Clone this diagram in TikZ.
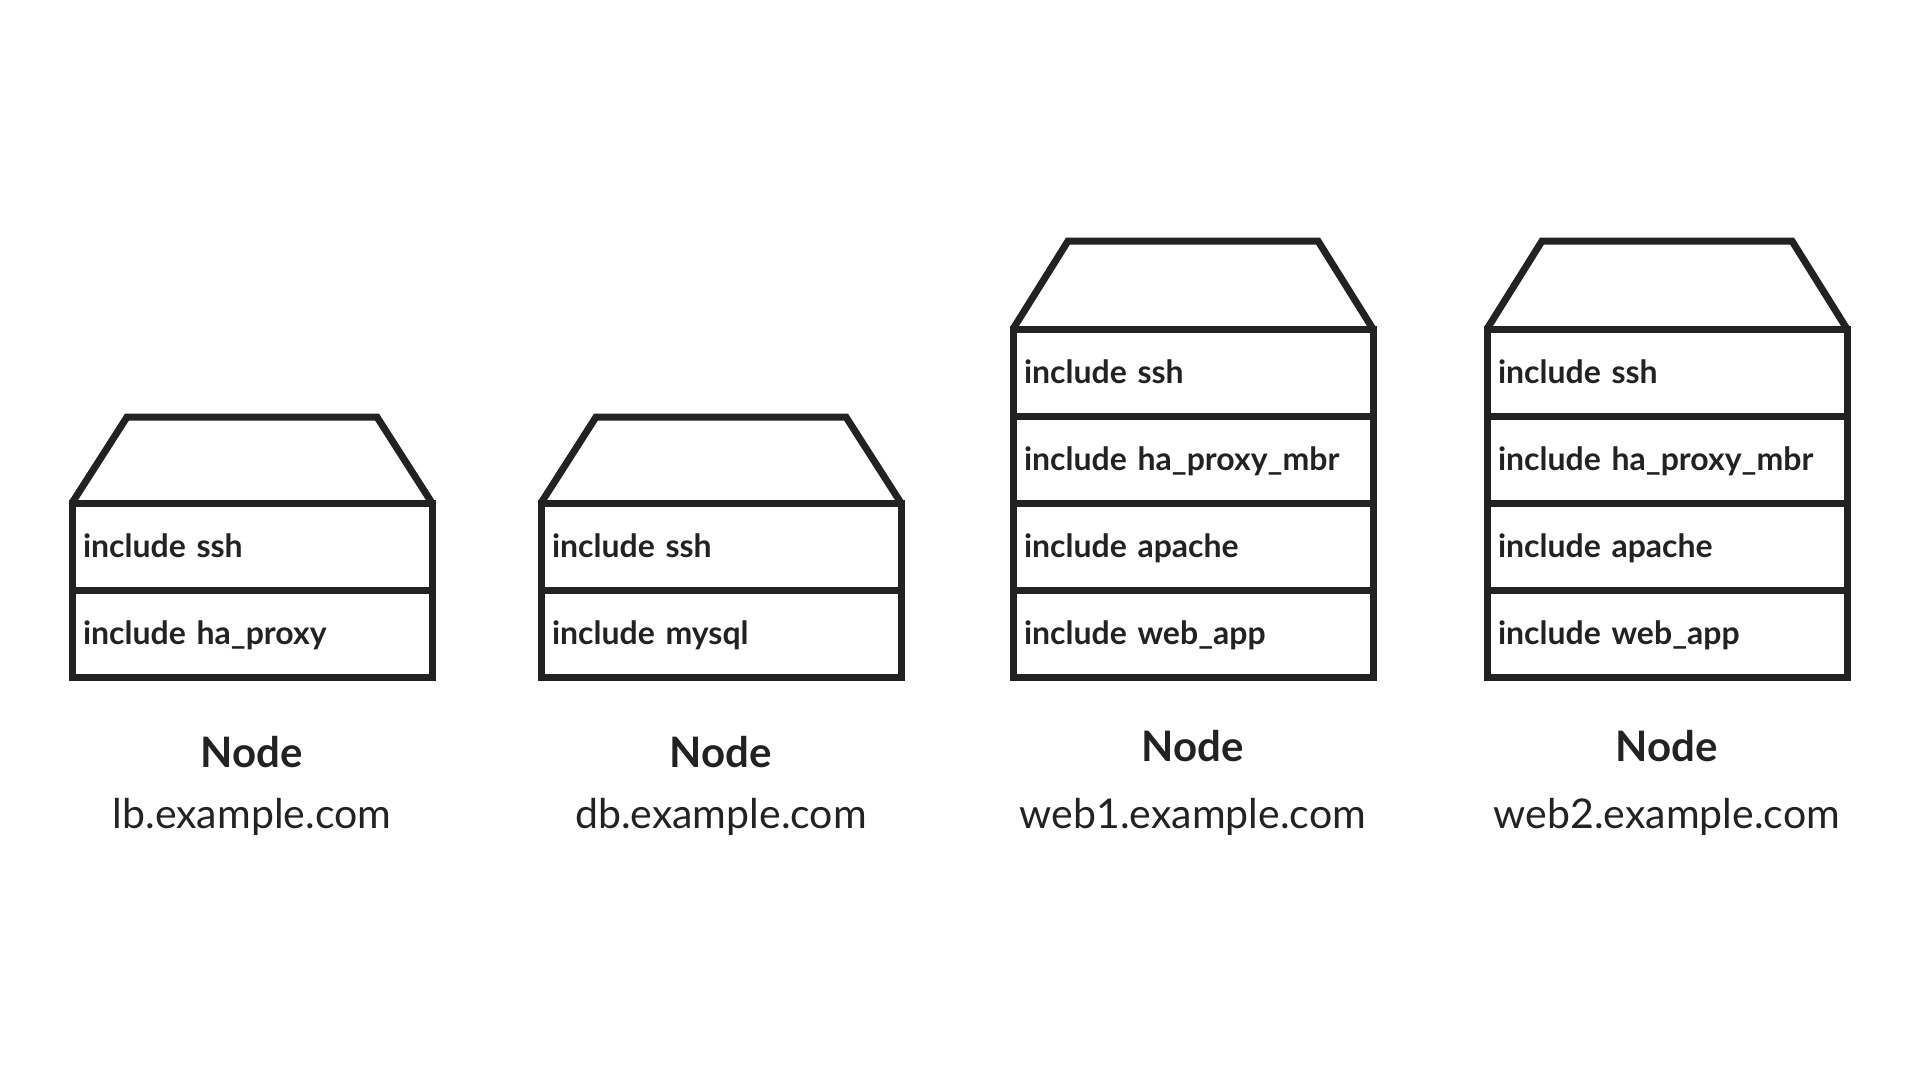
\documentclass[tikz,border=0pt]{standalone}
\usepackage{fontspec}
\setmainfont{Lato}
\usetikzlibrary{positioning}
\definecolor{ink}{HTML}{222222}

\tikzset{
    rowbox/.style={draw=ink, line width=7pt, outer sep=0pt,
        minimum width=360pt, minimum height=87pt,
        text width=338pt, inner xsep=11pt, align=left,
        text height=26pt, text depth=4pt, text=ink,
        font=\fontsize{32}{38}\selectfont\bfseries},
    roof/.style={draw=ink, line width=7pt, line join=miter},
    title/.style={anchor=base, text=ink,
        font=\fontsize{42}{48}\selectfont\bfseries},
    host/.style={anchor=base, text=ink,
        font=\fontsize{41}{49}\selectfont}
}

\begin{document}
\begin{tikzpicture}[x=1pt,y=-1pt]
\useasboundingbox (0,0) rectangle (1920,1080);

%Loadbalancer
    \node[rowbox, anchor=west] (lbssh) at (72,546.5) {include ssh};
    \node[rowbox, below=0pt of lbssh] (lbproxy) {include ha\_proxy};
    \draw[roof] (lbssh.north west) -- ++(55,-86)
        -- ([shift={(-55pt,86pt)}]lbssh.north east) -- (lbssh.north east);
    \node[title] (lbtitle) at (252,767) {Node};
    \node[host] (lbhost) at (252,828) {lb.example.com};

%Datenbank
    \node[rowbox, anchor=west] (dbssh) at (541,546.5) {include ssh};
    \node[rowbox, below=0pt of dbssh] (dbmysql) {include mysql};
    \draw[roof] (dbssh.north west) -- ++(55,-86)
        -- ([shift={(-55pt,86pt)}]dbssh.north east) -- (dbssh.north east);
    \node[title] (dbtitle) at (721,767) {Node};
    \node[host] (dbhost) at (721,828) {db.example.com};

%Webserver 1
    \node[rowbox, anchor=west] (webassh) at (1013,372.5) {include ssh};
    \node[rowbox, below=0pt of webassh] (webambr) {include ha\_proxy\_mbr};
    \node[rowbox, below=0pt of webambr] (webaapache) {include apache};
    \node[rowbox, below=0pt of webaapache] (webaapp) {include web\_app};
    \draw[roof] (webassh.north west) -- ++(55,-88)
        -- ([shift={(-55pt,88pt)}]webassh.north east) -- (webassh.north east);
    \node[title] (webatitle) at (1193,761) {Node};
    \node[host] (webahost) at (1193,828) {web1.example.com};

%Webserver 2
    \node[rowbox, anchor=west] (webbssh) at (1487,372.5) {include ssh};
    \node[rowbox, below=0pt of webbssh] (webbmbr) {include ha\_proxy\_mbr};
    \node[rowbox, below=0pt of webbmbr] (webbapache) {include apache};
    \node[rowbox, below=0pt of webbapache] (webbapp) {include web\_app};
    \draw[roof] (webbssh.north west) -- ++(55,-88)
        -- ([shift={(-55pt,88pt)}]webbssh.north east) -- (webbssh.north east);
    \node[title] (webbtitle) at (1667,761) {Node};
    \node[host] (webbhost) at (1667,828) {web2.example.com};

\end{tikzpicture}
\end{document}
